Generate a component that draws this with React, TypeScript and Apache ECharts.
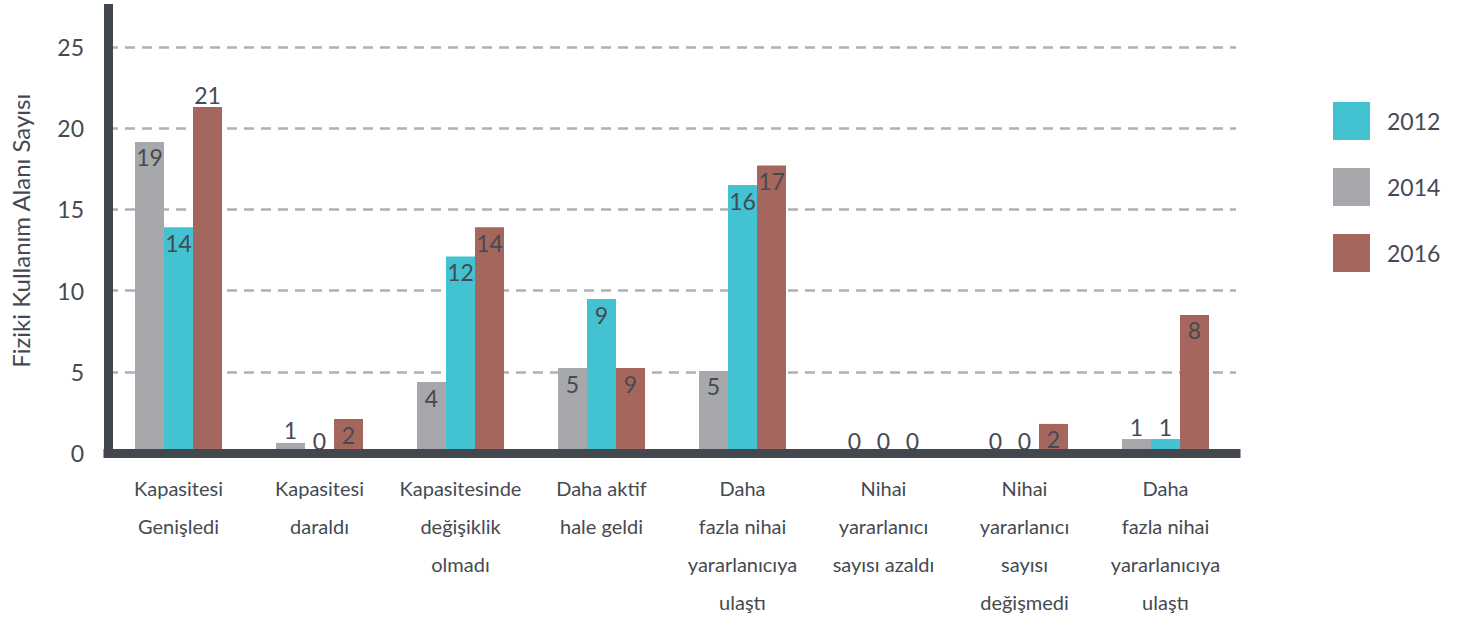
import React, { useEffect, useRef } from "react";
import * as echarts from "echarts";

const categories = [
  "Kapasitesi\nGenişledi",
  "Kapasitesi\ndaraldı",
  "Kapasitesinde\ndeğişiklik\nolmadı",
  "Daha aktif\nhale geldi",
  "Daha\nfazla nihai\nyararlanıcıya\nulaştı",
  "Nihai\nyararlanıcı\nsayısı azaldı",
  "Nihai\nyararlanıcı\nsayısı\ndeğişmedi",
  "Daha\nfazla nihai\nyararlanıcıya\nulaştı",
];
const legendYears = ["2012", "2014", "2016"];
// bar heights as drawn in the picture
const bars2014 = [19.15, 0.62, 4.37, 5.23, 5.05, 0, 0, 0.86];
const bars2012 = [13.9, 0, 12.1, 9.48, 16.5, 0, 0, 0.86];
const bars2016 = [21.3, 2.09, 13.9, 5.23, 17.7, 0, 1.79, 8.5];
// value labels as printed
const labels2014 = [19, 1, 4, 5, 5, 0, 0, 1];
const labels2012 = [14, 0, 12, 9, 16, 0, 0, 1];
const labels2016 = [21, 2, 14, 9, 17, 0, 2, 8];
const yAxisName = "Fiziki Kullanım Alanı Sayısı";

const FONT = "Lato, 'Noto Sans', sans-serif";
const TEXT = "#454a52";
const AXIS = "#43474e";

function makeSeries(name: string, values: number[], labels: number[], color: string) {
  return {
    name,
    type: "bar",
    barWidth: 29,
    barGap: "0%",
    itemStyle: { color },
    data: values.map((v, i) => {
      const outside = v < 1.2 || v > 21;
      return {
        value: v,
        label: {
          show: true,
          position: outside ? "top" : "insideTop",
          distance: outside ? 1 : 4,
          formatter: String(labels[i]),
          color: TEXT,
          fontSize: 23,
          fontFamily: FONT,
        },
      };
    }),
  };
}

export default function App() {
  const ref = useRef<HTMLDivElement>(null);
  useEffect(() => {
    const chart = echarts.init(ref.current!, null, { renderer: "svg" });
    chart.setOption({
      animation: false,
      textStyle: { fontFamily: FONT },
      grid: { left: 104, right: 1462 - 1236, top: 8.5, bottom: 622 - 453, containLabel: false },
      legend: {
        orient: "vertical",
        left: 1328,
        top: 97,
        itemWidth: 37,
        itemHeight: 38,
        itemGap: 28,
        icon: "rect",
        data: legendYears,
        textStyle: { fontSize: 23, color: TEXT, fontFamily: FONT, padding: [0, 0, 0, 12] },
      },
      xAxis: {
        type: "category",
        data: categories,
        offset: 5,
        z: 5,
        axisLine: { show: true, lineStyle: { color: AXIS, width: 9, cap: "square" } },
        axisTick: { show: false },
        axisLabel: {
          interval: 0,
          margin: 11,
          fontSize: 20,
          lineHeight: 38,
          color: TEXT,
          fontFamily: FONT,
        },
      },
      yAxis: {
        type: "value",
        min: 0,
        max: 27.37,
        interval: 5,
        name: yAxisName,
        nameLocation: "middle",
        nameGap: 76,
        nameTextStyle: { fontSize: 24, color: TEXT, fontFamily: FONT },
        axisLine: { show: true, lineStyle: { color: AXIS, width: 9, cap: "square" } },
        axisTick: { show: false },
        axisLabel: { showMaxLabel: false, margin: 24, fontSize: 23, color: TEXT, fontFamily: FONT },
        splitLine: {
          show: true,
          showMinLine: false,
          showMaxLine: false,
          lineStyle: { color: "#b0b0b3", width: 2.5, type: [10, 7] },
        },
      },
      series: [
        makeSeries("2014", bars2014, labels2014, "#a7a8ab"),
        makeSeries("2012", bars2012, labels2012, "#43c2d1"),
        makeSeries("2016", bars2016, labels2016, "#a5675d"),
      ],
    });
    return () => chart.dispose();
  }, []);
  return (
    <div
      ref={ref}
      style={{ position: "fixed", left: 0, top: 0, width: 1462, height: 622, background: "#fff" }}
    />
  );
}
